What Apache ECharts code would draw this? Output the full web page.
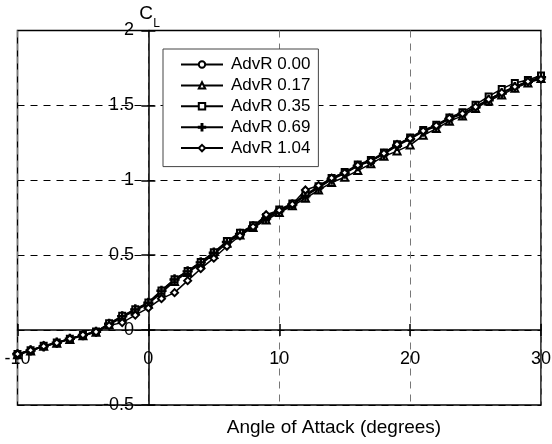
<!DOCTYPE html>
<html>
<head>
<meta charset="utf-8">
<script src="https://cdn.jsdelivr.net/npm/echarts@6/dist/echarts.min.js"></script>
<style>html,body{margin:0;padding:0;background:#fff}#c{width:552px;height:444px}</style>
</head>
<body>
<div id="c"></div>
<script>
var alpha = [-10,-9,-8,-7,-6,-5,-4,-3,-2,-1,0,1,2,3,4,5,6,7,8,9,10,11,12,13,14,15,16,17,18,19,20,21,22,23,24,25,26,27,28,29,30];
var seriesNames = ['AdvR 0.00','AdvR 0.17','AdvR 0.35','AdvR 0.69','AdvR 1.04'];
var cl000 = [-0.163,-0.137,-0.110,-0.085,-0.060,-0.035,-0.012,0.040,0.090,0.135,0.180,0.260,0.335,0.390,0.450,0.515,0.590,0.645,0.695,0.750,0.800,0.840,0.900,0.955,1.010,1.050,1.100,1.130,1.180,1.235,1.280,1.330,1.365,1.415,1.445,1.490,1.540,1.585,1.625,1.660,1.690];
var cl017 = [-0.165,-0.140,-0.108,-0.088,-0.062,-0.038,-0.015,0.035,0.085,0.130,0.175,0.250,0.325,0.385,0.440,0.505,0.580,0.635,0.685,0.735,0.785,0.830,0.880,0.935,0.985,1.020,1.065,1.110,1.160,1.195,1.235,1.300,1.345,1.395,1.430,1.480,1.530,1.570,1.615,1.650,1.680];
var cl035 = [-0.160,-0.135,-0.105,-0.083,-0.058,-0.032,-0.010,0.045,0.095,0.140,0.185,0.265,0.340,0.395,0.455,0.520,0.595,0.650,0.700,0.755,0.805,0.845,0.905,0.960,1.015,1.055,1.105,1.135,1.185,1.240,1.285,1.335,1.370,1.420,1.455,1.505,1.560,1.610,1.650,1.670,1.700];
var cl069 = [-0.162,-0.136,-0.108,-0.084,-0.058,-0.033,-0.011,0.042,0.092,0.138,0.182,0.262,0.338,0.392,0.452,0.517,0.588,0.642,0.692,0.745,0.795,0.838,0.895,0.950,1.005,1.045,1.095,1.128,1.175,1.230,1.275,1.325,1.360,1.410,1.442,1.488,1.535,1.580,1.622,1.658,1.688];
var cl104 = [-0.160,-0.135,-0.108,-0.085,-0.058,-0.032,-0.012,0.030,0.050,0.100,0.148,0.210,0.250,0.330,0.410,0.480,0.560,0.630,0.690,0.770,0.800,0.840,0.935,0.965,1.015,1.050,1.100,1.130,1.180,1.240,1.280,1.330,1.365,1.415,1.445,1.490,1.540,1.585,1.625,1.660,1.675];
var xTitle = 'Angle of Attack (degrees)';
var yTitleMain = 'C';
var yTitleSub = 'L';

var FONT = '"Liberation Sans", Arial, sans-serif';
var allData = [cl000, cl017, cl035, cl069, cl104];
var symbols = ['emptyCircle','emptyTriangle','emptyRect','path://M4.3,0H5.7V4.3H10V5.7H5.7V10H4.3V5.7H0V4.3H4.3Z','emptyDiamond'];
var sizes = [6, 7, 6, 9, 7];

function pairs(ys){ return alpha.map(function(a,i){ return [a, ys[i]]; }); }

var series = seriesNames.map(function(n, k){
  return {
    name: n, type: 'line', data: pairs(allData[k]),
    symbol: symbols[k], symbolSize: sizes[k], showSymbol: true,
    lineStyle: {color:'#000', width:1.5},
    itemStyle: {color:'#000', borderColor:'#000', borderWidth:1.2},
    emphasis: {disabled:true}, z: 3
  };
});

var chart = echarts.init(document.getElementById('c'), null, {renderer:'canvas'});
chart.setOption({
  animation: false,
  backgroundColor: '#fff',
  grid: {left:17.5, right:11, top:30.5, bottom:39, containLabel:false, outerBoundsMode:'none',
         show:true, borderColor:'#000', borderWidth:1.5, backgroundColor:'transparent'},
  legend: {
    data: seriesNames, orient:'vertical', left:163, top:49,
    padding:[7,8,10,17], itemGap:3.9, itemWidth:42, itemHeight:8,
    backgroundColor:'#fff', borderColor:'#444', borderWidth:1, selectedMode:false,
    textStyle:{fontFamily:FONT, fontSize:17, color:'#000', lineHeight:14, padding:[0,0,0,3]}
  },
  xAxis: [{
    type:'value', min:-10, max:30, interval:10,
    axisLine:{onZero:true, lineStyle:{color:'#000', width:1.5}},
    axisTick:{show:true, inside:false, length:6, lineStyle:{color:'#000', width:1.5}},
    axisLabel:{fontFamily:FONT, fontSize:18, color:'#000', margin:-55},
    splitLine:{show:true, lineStyle:{color:'#777', width:1, type:[7,6]}}
  },{
    type:'value', min:-10, max:30, interval:10, position:'top',
    axisLine:{show:false, onZero:true},
    axisTick:{show:true, inside:false, length:6, lineStyle:{color:'#000', width:1.5}},
    axisLabel:{show:false}, splitLine:{show:false}
  }],
  yAxis: [{
    type:'value', min:-0.5, max:2, interval:0.5,
    axisLine:{onZero:true, lineStyle:{color:'#000', width:1.5}},
    axisTick:{show:true, inside:false, length:7, lineStyle:{color:'#000', width:1.5}},
    axisLabel:{fontFamily:FONT, fontSize:18, color:'#000', margin:-116.5},
    splitLine:{show:true, lineStyle:{color:'#000', width:1, type:[7,6]}}
  },{
    type:'value', min:-0.5, max:2, interval:0.5, position:'right',
    axisLine:{show:false, onZero:true},
    axisTick:{show:true, inside:false, length:7, lineStyle:{color:'#000', width:1.5}},
    axisLabel:{show:false}, splitLine:{show:false}
  }],
  graphic: {elements: [
    {type:'text', x:334, y:428, style:{text:xTitle, font:'19px ' + FONT, fill:'#000', align:'center', verticalAlign:'middle', textAlign:'center', textVerticalAlign:'middle'}},
    {type:'text', x:146, y:14, style:{text:yTitleMain, font:'19px ' + FONT, fill:'#000', align:'center', verticalAlign:'middle', textAlign:'center', textVerticalAlign:'middle'}},
    {type:'text', x:156.5, y:24, style:{text:yTitleSub, font:'12px ' + FONT, fill:'#000', align:'center', verticalAlign:'middle', textAlign:'center', textVerticalAlign:'middle'}}
  ]},
  series: series
});
</script>
</body>
</html>
